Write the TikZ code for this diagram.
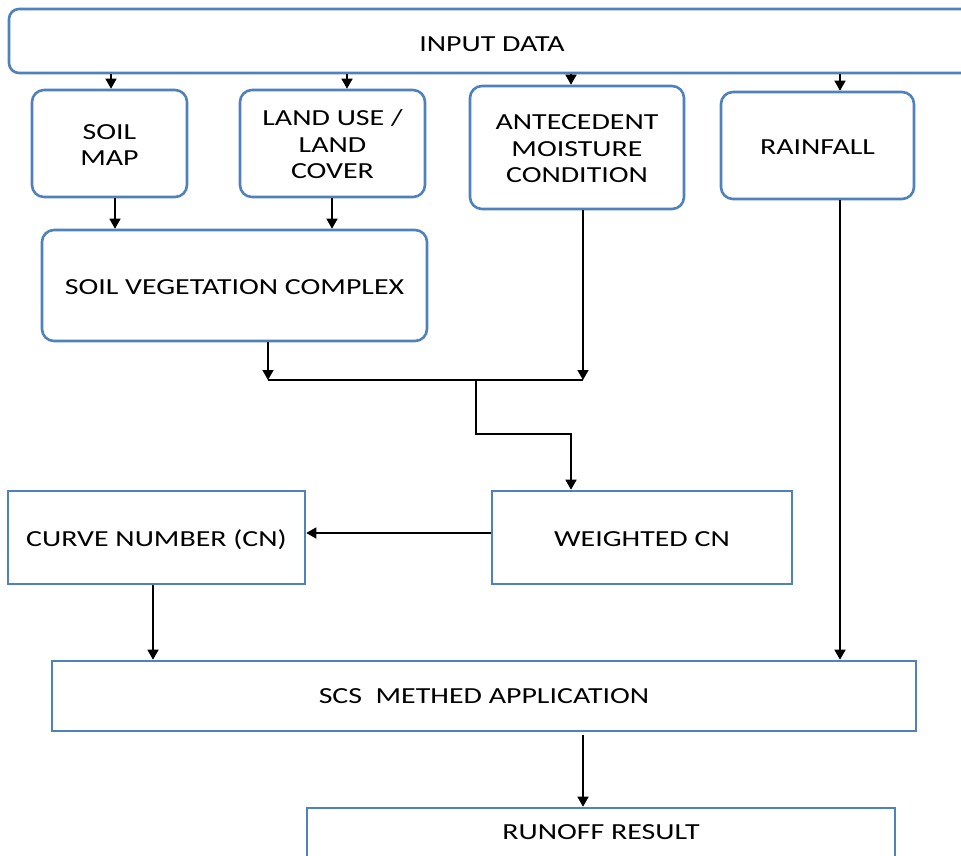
\documentclass[tikz,border=0pt]{standalone}
\usepackage{fontspec}
\setmainfont{Carlito}
\usepackage{graphicx}
\usetikzlibrary{arrows.meta}
\definecolor{boxblue}{rgb}{0.31,0.506,0.741}
\newcommand{\wtxt}[2][3.5pt]{\raisebox{-#1}[\height][\depth]{\scalebox{1.3}[1]{\begin{tabular}{@{}c@{}}#2\end{tabular}}}}
\begin{document}
\begin{tikzpicture}[x=1pt,y=-1pt,
  box/.style={draw=boxblue,line width=2.6pt,fill=white,inner sep=0pt,
    font=\fontsize{23}{26.5}\selectfont,text=black},
  rbox/.style={box,rounded corners=12pt},
  arr/.style={draw=black,line width=1.5pt,-{Triangle[width=11pt,length=10pt]}},
  ln/.style={draw=black,line width=1.5pt}]
\useasboundingbox (0,0) rectangle (961,855);
\fill[white] (0,0) rectangle (961,855);
% nodes
\node[rbox,rounded corners=10pt,minimum width=966pt,minimum height=64pt] (input) at (492,41) {\wtxt[5.5pt]{INPUT DATA}};
\node[rbox,minimum width=155pt,minimum height=107pt] (soil) at (109.5,143.5) {\wtxt{SOIL\\MAP}};
\node[rbox,minimum width=185pt,minimum height=107pt] (land) at (332.5,143.5) {\wtxt{LAND USE /\\LAND\\COVER}};
\node[rbox,minimum width=214pt,minimum height=123pt] (amc) at (577,147.5) {\wtxt{ANTECEDENT\\MOISTURE\\CONDITION}};
\node[rbox,minimum width=193pt,minimum height=107pt] (rain) at (817.5,145.5) {\wtxt{RAINFALL}};
\node[rbox,minimum width=385pt,minimum height=111pt] (svc) at (234.5,285.5) {\wtxt{SOIL VEGETATION COMPLEX}};
\node[box,minimum width=297pt,minimum height=93pt] (cn) at (156.5,537.5) {\wtxt{CURVE NUMBER (CN)}};
\node[box,minimum width=300pt,minimum height=93pt] (wcn) at (642,537.5) {\wtxt{WEIGHTED CN}};
\node[box,minimum width=864pt,minimum height=70pt] (scs) at (484,696) {\wtxt[2pt]{SCS\ \ METHED APPLICATION}};
\node[box,minimum width=588pt,minimum height=50pt] (run) at (601,833) {\wtxt[1pt]{RUNOFF RESULT}};
% junction coordinates
\coordinate (jl) at (268,380);
\coordinate (jr) at (583,380);
\coordinate (jm) at (476,380);
\coordinate (bend1) at (476,434);
\coordinate (bend2) at (571,434);
% connectors
\draw[arr] (111,0 |- input.south) -- (111,0 |- soil.north);
\draw[arr] (347,0 |- input.south) -- (347,0 |- land.north);
\draw[arr] (571,0 |- input.south) -- (571,0 |- amc.north);
\draw[arr] (840,0 |- input.south) -- (840,0 |- rain.north);
\draw[arr] (115,0 |- soil.south) -- (115,0 |- svc.north);
\draw[arr] (332,0 |- land.south) -- (332,0 |- svc.north);
\draw[arr] (jl |- svc.south) -- (jl);
\draw[arr] (jr |- amc.south) -- (jr);
\draw[ln] (jl) -- (jr);
\draw[arr] (jm) -- (bend1) -- (bend2) -- (bend2 |- wcn.north);
\draw[arr] (0,533 -| wcn.west) -- (0,533 -| cn.east);
\draw[arr] (153,0 |- cn.south) -- (153,0 |- scs.north);
\draw[arr] (840,0 |- rain.south) -- (840,0 |- scs.north);
\draw[arr] (583,735) -- (583,0 |- run.north);
\end{tikzpicture}
\end{document}
